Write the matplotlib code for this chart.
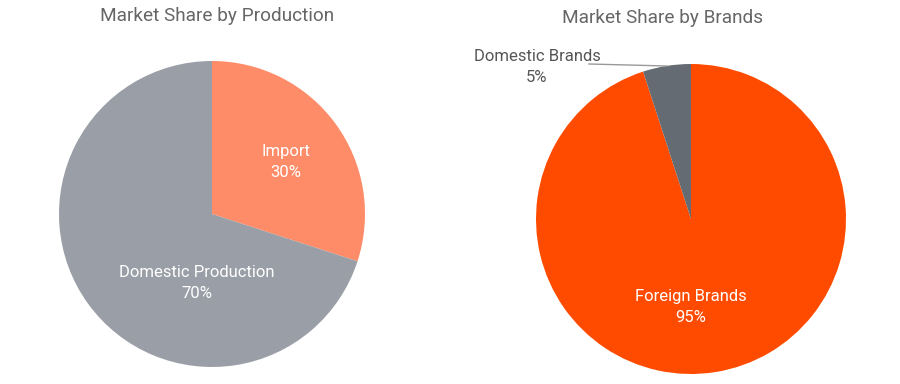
import matplotlib
matplotlib.use("Agg")
import matplotlib.pyplot as plt

plt.rcParams['font.family'] = ['Roboto', 'DejaVu Sans']

# Data
prod_labels = ["Import", "Domestic Production"]
prod_values = [30, 70]
prod_colors = ["#FF8C69", "#9A9EA6"]

brand_labels = ["Foreign Brands", "Domestic Brands"]
brand_values = [95, 5]
brand_colors = ["#FF4B00", "#656B72"]

titles = ["Market Share by Production", "Market Share by Brands"]

W, H = 900, 384
fig = plt.figure(figsize=(W / 100, H / 100), dpi=100)
ax = fig.add_axes([0, 0, 1, 1])

def Y(py):
    return H - py

# Left pie
ax.pie(prod_values, colors=prod_colors, startangle=90, counterclock=False,
       center=(212, Y(214)), radius=153, frame=True,
       wedgeprops=dict(linewidth=0))
# Right pie
ax.pie(brand_values, colors=brand_colors, startangle=90, counterclock=False,
       center=(691, Y(219)), radius=155, frame=True,
       wedgeprops=dict(linewidth=0))
ax.set_xlim(0, W)
ax.set_ylim(0, H)
ax.set_aspect('equal')
ax.axis('off')

lab_kw = dict(ha='center', va='center', fontsize=12, linespacing=1.45)
ax.text(286, Y(162), f"{prod_labels[0]}\n{prod_values[0]}%", color='white', **lab_kw)
ax.text(197, Y(283), f"{prod_labels[1]}\n{prod_values[1]}%", color='white', **lab_kw)
ax.text(691, Y(307), f"{brand_labels[0]}\n{brand_values[0]}%", color='white', **lab_kw)
ax.text(537, Y(67), f"{brand_labels[1]}\n{brand_values[1]}%", color='#555555', **lab_kw)
ax.plot([589, 667], [Y(64), Y(66)], color='#999999', lw=1)

ax.text(217, Y(16), titles[0], ha='center', va='center', fontsize=13.7, color='#666666')
ax.text(663, Y(18), titles[1], ha='center', va='center', fontsize=13.7, color='#666666')

fig.savefig("out.png", dpi=100)
